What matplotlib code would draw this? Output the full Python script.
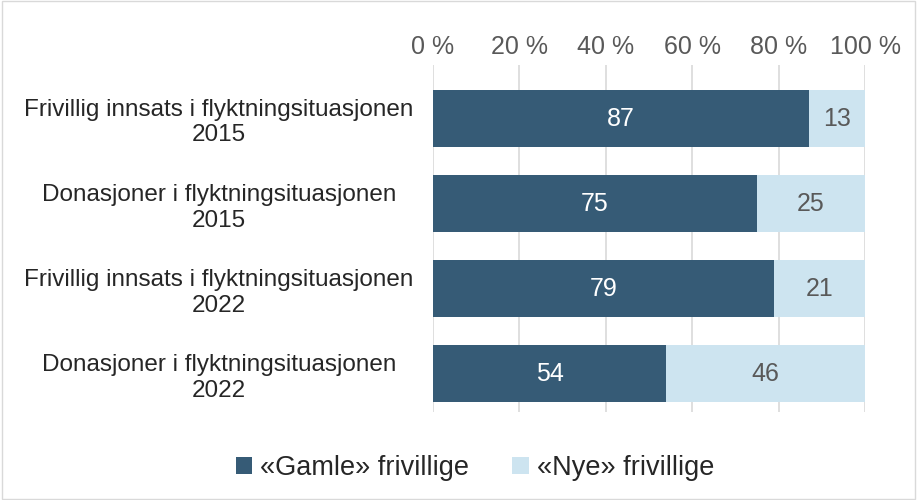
import matplotlib
matplotlib.use("Agg")
import matplotlib.pyplot as plt
import numpy as np

categories = [
    "Frivillig innsats i flyktningsituasjonen\n2015",
    "Donasjoner i flyktningsituasjonen\n2015",
    "Frivillig innsats i flyktningsituasjonen\n2022",
    "Donasjoner i flyktningsituasjonen\n2022",
]
gamle = [87, 75, 79, 54]
nye = [13, 25, 21, 46]
series_names = ["«Gamle» frivillige", "«Nye» frivillige"]
tick_vals = [0, 20, 40, 60, 80, 100]

plt.rcParams['font.family'] = ['Liberation Sans', 'DejaVu Sans']
dark = "#365b76"
light = "#cde4f0"
gray = "#595959"

fig = plt.figure(figsize=(9.17, 5.0), dpi=100)
fig.patches.append(plt.Rectangle((0.002, 0.002), 0.996, 0.996, transform=fig.transFigure,
                                 fill=False, edgecolor="#d9d9d9", linewidth=1.0))
ax = fig.add_axes([433/917, 1-412/500, (865-433)/917, (412-65)/500])

y = np.arange(len(categories))
h = 0.67
b1 = ax.barh(y, gamle, height=h, color=dark, label=series_names[0], zorder=3)
b2 = ax.barh(y, nye, left=gamle, height=h, color=light, label=series_names[1], zorder=3)

for i in range(len(categories)):
    ax.text(gamle[i] / 2, y[i], str(gamle[i]), ha="center", va="center", color="white", fontsize=18, zorder=4)
    ax.text(gamle[i] + nye[i] / 2, y[i], str(nye[i]), ha="center", va="center", color=gray, fontsize=18, zorder=4)

ax.set_xlim(0, 100)
ax.set_ylim(3.45, -0.63)
ax.set_yticks(y)
ax.set_yticklabels(categories, fontsize=17.5, color="#262626", ha="center",
                   multialignment="center", linespacing=1.2)
ax.tick_params(axis="y", length=0, pad=154)
ax.xaxis.tick_top()
ax.set_xticks(tick_vals)
ax.set_xticklabels([f"{v} %" for v in tick_vals], fontsize=18, color=gray)
ax.tick_params(axis="x", length=0, pad=4.5)
ax.grid(axis="x", color="#d9d9d9", linewidth=1.2, zorder=0)
for s in ax.spines.values():
    s.set_visible(False)

fig.legend(handles=[b1, b2], labels=series_names, loc="center", bbox_to_anchor=(475/917, 1-468/500),
           ncol=2, frameon=False, fontsize=19.5, handlelength=0.6, handleheight=0.6,
           handletextpad=0.3, columnspacing=1.6, labelcolor="#262626")

fig.savefig("out.png", dpi=100)
